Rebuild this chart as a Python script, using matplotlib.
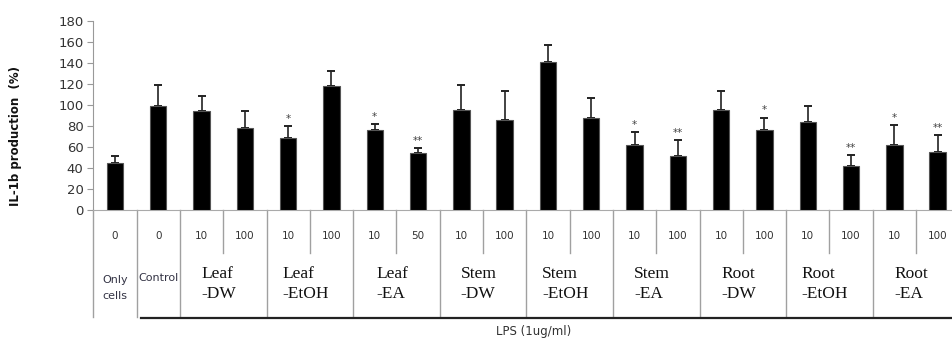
import matplotlib
matplotlib.use("Agg")
import matplotlib.pyplot as plt
from matplotlib.transforms import blended_transform_factory

# ---- data ----
doses = ["0", "0", "10", "100", "10", "100", "10", "50", "10", "100",
         "10", "100", "10", "100", "10", "100", "10", "100", "10", "100"]
values = [45, 99, 94, 78, 69, 118, 76, 54, 95, 86,
          141, 88, 62, 51, 95, 76, 84, 42, 62, 55]
errors = [6, 20, 15, 16, 11, 14, 6, 5, 24, 27,
          16, 19, 12, 16, 18, 12, 15, 10, 19, 16]
stars = ["", "", "", "", "*", "", "*", "**", "", "",
         "", "", "*", "**", "", "*", "", "**", "*", "**"]
groups = ["Leaf\n-DW", "Leaf\n-EtOH", "Leaf\n-EA", "Stem\n-DW", "Stem\n-EtOH",
          "Stem\n-EA", "Root\n-DW", "Root\n-EtOH", "Root\n-EA"]
ylabel = "IL-1b production  (%)"
lps_label = "LPS (1ug/ml)"

W, H = 952, 340
fig = plt.figure(figsize=(W / 100, H / 100), dpi=100)

def fx(px):
    return px / W

def fy(py):
    return 1 - py / H

x0, step = 93.3, 43.3
ybot, ytop = 210, 21
ax = fig.add_axes([fx(x0), fy(ybot), fx(step * len(values)), (ybot - ytop) / H])

xs = list(range(len(values)))
ax.bar(xs, values, width=0.38, color="black", edgecolor="#555555", linewidth=0.8, zorder=3)
ax.errorbar(xs, values, yerr=[[0] * len(values), errors], fmt="none",
            ecolor="#222222", elinewidth=1.2, capsize=2.6, capthick=1.4, zorder=2)
for x, v, e, s in zip(xs, values, errors, stars):
    if s:
        ax.text(x, v + e + 2, s, ha="center", va="bottom", fontsize=7.5, color="#444444")

ax.set_xlim(-0.5, len(values) - 0.5)
ax.set_ylim(0, 180)
ax.set_yticks(range(0, 181, 20))
ax.set_xticks([])
for sp in ["top", "right"]:
    ax.spines[sp].set_visible(False)
ax.spines["left"].set_color("#999999")
ax.spines["bottom"].set_color("#aaaaaa")
ax.tick_params(axis="y", length=4, color="#999999", labelsize=9.5, labelcolor="#333333", pad=3)

fig.text(fx(16), fy(136), ylabel, rotation=90, ha="center", va="center",
         fontsize=8.5, fontweight="bold", color="#111111")

tr = blended_transform_factory(ax.transData, fig.transFigure)
gray = "#a0a0a0"

# table lines
full = [-0.5, 0.5, 1.5] + [1.5 + 2 * k for k in range(1, 10)]
short = [2.5 + 2 * k for k in range(9)]
for b in full:
    ax.plot([b, b], [fy(210), fy(317)], color=gray, lw=1.0, transform=tr, clip_on=False)
for b in short:
    ax.plot([b, b], [fy(210), fy(253)], color=gray, lw=1.0, transform=tr, clip_on=False)

# dose row
for x, d in zip(xs, doses):
    ax.text(x, fy(236), d, ha="center", va="center", fontsize=7.5, color="#333333",
            transform=tr, clip_on=False)

# group labels
ax.text(0, fy(288), "Only\ncells", ha="center", va="center", fontsize=8, color="#333344",
        linespacing=1.75, transform=tr)
ax.text(1, fy(278), "Control", ha="center", va="center", fontsize=8, color="#333344",
        transform=tr)
for k, g in enumerate(groups):
    cx = 2.5 + 2 * k - 0.1
    ax.text(cx, fy(284), g, ha="center", va="center", fontsize=12.5,
            family="Liberation Serif", multialignment="left", linespacing=1.3,
            color="#111111", transform=tr)

# LPS line
ax.plot([0.6, len(values) - 0.5], [fy(317.5), fy(317.5)], color="#222222", lw=1.6,
        transform=tr, clip_on=False)
fig.text(fx(534), fy(332), lps_label, ha="center", va="center", fontsize=8.5, color="#333333")

fig.savefig("out.png", dpi=100)
